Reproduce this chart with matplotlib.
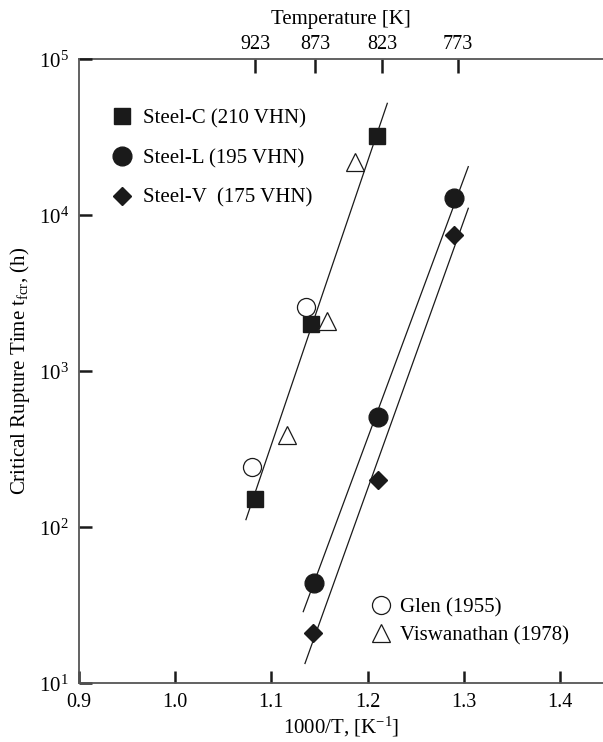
import numpy as np
import matplotlib.pyplot as plt
from matplotlib.ticker import NullLocator

plt.rcParams['font.family'] = ['Liberation Serif', 'DejaVu Serif']
plt.rcParams['mathtext.fontset'] = 'custom'
plt.rcParams['mathtext.rm'] = 'Liberation Serif'
plt.rcParams['mathtext.it'] = 'Liberation Serif:italic'

# data: x = 1000/T [1/K], y = critical rupture time [h]
steel_c_x = [1.083, 1.141, 1.210]
steel_c_y = [152, 2010, 32400]
steel_l_x = [1.144, 1.211, 1.290]
steel_l_y = [44, 507, 12850]
steel_v_x = [1.143, 1.211, 1.290]
steel_v_y = [21, 201, 7480]
glen_x = [1.080, 1.136]
glen_y = [245, 2600]
visw_x = [1.116, 1.1575, 1.187]
visw_y = [391, 2110, 22100]

# fitted lines (end points)
line_c_x = [1.0737, 1.2205]
line_c_y = [112, 52200]
line_l_x = [1.1332, 1.3046]
line_l_y = [28.8, 20500]
line_v_x = [1.1350, 1.3046]
line_v_y = [13.4, 11090]

temp_ticks = [923, 873, 823, 773]

ink = '#1a1a1a'
edge = '#555555'

fig = plt.figure(figsize=(6.03, 7.42), dpi=100)
ax = fig.add_axes([0.1305, 0.0791, 0.8695, 0.841])

for lx, ly in [(line_c_x, line_c_y), (line_l_x, line_l_y), (line_v_x, line_v_y)]:
    ax.plot(lx, ly, color=ink, lw=0.9)

h_c, = ax.plot(steel_c_x, steel_c_y, 's', ms=12, color=ink, ls='none',
               label='Steel-C (210 VHN)')
h_l, = ax.plot(steel_l_x, steel_l_y, 'o', ms=13.5, color=ink, ls='none',
               label='Steel-L (195 VHN)')
h_v, = ax.plot(steel_v_x, steel_v_y, 'D', ms=9, color=ink, ls='none',
               label='Steel-V  (175 VHN)')
h_g, = ax.plot(glen_x, glen_y, 'o', ms=13, mfc='white', mec=ink, mew=0.9,
               ls='none', label='Glen (1955)')
h_w, = ax.plot(visw_x, visw_y, '^', ms=12.5, mfc='white', mec=ink, mew=0.9,
               ls='none', label='Viswanathan (1978)')

ax.set_yscale('log')
ax.set_xlim(0.9, 1.4445)
ax.set_ylim(10, 1e5)
ax.set_xticks([0.9, 1.0, 1.1, 1.2, 1.3, 1.4])
ax.set_xticklabels(['0.9', '1.0', '1.1', '1.2', '1.3', '1.4'])
ax.yaxis.set_minor_locator(NullLocator())
ax.xaxis.set_minor_locator(NullLocator())
ax.tick_params(direction='in', length=9, width=1.8, color=ink,
               labelsize=14.5, pad=7)
ax.tick_params(axis='y', labelsize=15)
ax.spines['right'].set_visible(False)
ax.spines['top'].set_visible(False)
for s in ['left', 'bottom']:
    ax.spines[s].set_color(edge)
    ax.spines[s].set_linewidth(1.3)

ax.set_xlabel(r'1000/T, [K$^{\mathrm{-1}}$]', fontsize=15, labelpad=2)
ax.set_ylabel(r'Critical Rupture Time t$_{\mathrm{fcr}}$, (h)', fontsize=15,
              labelpad=5)

sec = ax.secondary_xaxis('top', functions=(lambda x: 1000.0 / x,
                                           lambda t: 1000.0 / t))
sec.set_xticks(temp_ticks)
sec.set_xticklabels([str(t) for t in temp_ticks])
sec.xaxis.set_minor_locator(NullLocator())
sec.tick_params(direction='in', length=10, width=1.8, color=ink,
                labelsize=14.5, pad=4)
sec.spines['top'].set_color(edge)
sec.spines['top'].set_linewidth(1.3)
sec.set_xlabel('Temperature [K]', fontsize=15, labelpad=8)

leg1 = ax.legend(handles=[h_c, h_l, h_v], loc='upper left',
                 bbox_to_anchor=(0.062, 0.920), frameon=False, fontsize=15,
                 numpoints=1, handlelength=1.0, handletextpad=0.54,
                 labelspacing=0.96, borderpad=0, borderaxespad=0)
ax.add_artist(leg1)
ax.legend(handles=[h_g, h_w], loc='upper left',
          bbox_to_anchor=(0.556, 0.137), frameon=False, fontsize=15,
          numpoints=1, handlelength=1.0, handletextpad=0.43,
          labelspacing=0.4, borderpad=0, borderaxespad=0)

fig.savefig('out.png', dpi=100)
